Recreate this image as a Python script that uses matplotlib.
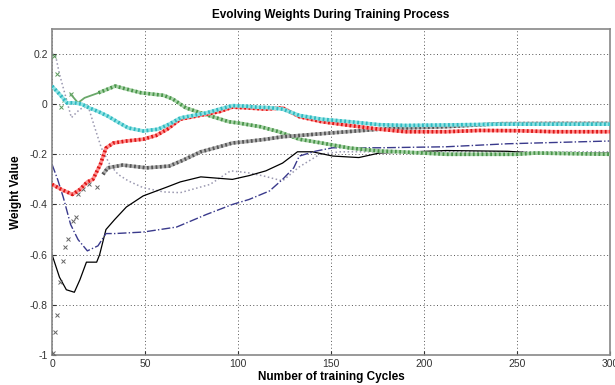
import matplotlib
matplotlib.use('Agg')
import matplotlib.pyplot as plt
import numpy as np

plt.rcParams['font.family'] = ['Liberation Sans', 'DejaVu Sans']

# weights (cycle, value)
cyan_x = [0, 4, 8, 12, 16, 20, 25, 30, 35, 41, 49, 57, 63, 69, 76, 83, 90, 97, 104, 110, 117, 124, 133, 145, 160, 176, 190, 212, 241, 260, 300]
cyan_y = [0.072, 0.04, 0.005, 0.005, 0.0, -0.015, -0.03, -0.048, -0.07, -0.095, -0.107, -0.1, -0.08, -0.055, -0.045, -0.035, -0.02, -0.006, -0.008, -0.012, -0.014, -0.02, -0.045, -0.06, -0.07, -0.082, -0.085, -0.083, -0.08, -0.08, -0.08]

red_x = [0, 5, 11, 15, 19, 22, 26, 29, 33, 40, 49, 56, 62, 69, 76, 83, 90, 97, 105, 115, 124, 133, 145, 160, 176, 190, 212, 230, 250, 270, 300]
red_y = [-0.32, -0.34, -0.36, -0.34, -0.31, -0.3, -0.24, -0.175, -0.155, -0.147, -0.14, -0.125, -0.1, -0.06, -0.05, -0.04, -0.03, -0.012, -0.015, -0.02, -0.015, -0.05, -0.07, -0.085, -0.1, -0.11, -0.11, -0.105, -0.106, -0.11, -0.11]

green_x = [1, 2.5, 5, 6.5, 10, 14, 17.5, 25, 34, 40, 48, 60, 65, 72, 82, 95, 100, 112, 122, 133, 145, 160, 176, 187, 212, 250, 260, 300]
green_y = [0.19, 0.12, -0.01, 0.016, 0.04, 0.005, 0.025, 0.045, 0.072, 0.06, 0.045, 0.035, 0.02, -0.015, -0.04, -0.07, -0.075, -0.09, -0.11, -0.14, -0.155, -0.175, -0.187, -0.19, -0.2, -0.2, -0.195, -0.2]

gray_early_x = [0.5, 1.8, 2.8, 4.1, 5.9, 6.8, 8.6, 11.3, 13, 14, 16.7, 20, 24]
gray_early_y = [-0.994, -0.91, -0.84, -0.71, -0.624, -0.57, -0.537, -0.465, -0.45, -0.36, -0.34, -0.32, -0.33]
gray_x = [27.4, 30, 38, 51, 63, 70, 80, 90, 97, 106, 115, 124, 133, 150, 176, 190, 212, 241, 270, 300]
gray_y = [-0.28, -0.254, -0.243, -0.254, -0.247, -0.225, -0.19, -0.17, -0.155, -0.148, -0.14, -0.13, -0.125, -0.115, -0.1, -0.095, -0.09, -0.078, -0.077, -0.077]

black_x = [0, 4, 7.7, 12, 15, 17, 18.5, 24, 25.6, 29, 33.7, 40, 49, 62, 69, 80, 97, 106, 115, 124, 132, 140, 151, 165, 176, 212, 245, 260, 300]
black_y = [-0.6, -0.69, -0.74, -0.75, -0.7, -0.66, -0.63, -0.63, -0.6, -0.5, -0.46, -0.41, -0.366, -0.33, -0.31, -0.29, -0.3, -0.285, -0.266, -0.235, -0.19, -0.19, -0.207, -0.213, -0.195, -0.185, -0.188, -0.195, -0.195]

navy_x = [0, 3, 6, 10, 14, 19, 24.7, 29, 33.7, 49, 67, 83, 97, 106, 117, 124, 130, 133, 142, 151, 176, 212, 245, 300]
navy_y = [-0.24, -0.3, -0.37, -0.48, -0.54, -0.585, -0.565, -0.516, -0.516, -0.51, -0.49, -0.44, -0.4, -0.38, -0.346, -0.3, -0.254, -0.207, -0.187, -0.174, -0.174, -0.17, -0.158, -0.147]

dot_x = [0, 1.8, 4, 7.7, 10.4, 15, 19.4, 23, 26.5, 31, 35.5, 41, 49, 60, 69, 85, 96, 105, 113.5, 124, 133, 144, 155, 176, 212, 300]
dot_y = [0.2, 0.197, 0.12, 0.02, -0.054, -0.02, -0.008, -0.094, -0.174, -0.24, -0.28, -0.306, -0.333, -0.35, -0.353, -0.32, -0.266, -0.273, -0.286, -0.306, -0.25, -0.2, -0.19, -0.19, -0.19, -0.19]

fig = plt.figure(figsize=(6.15, 3.85), dpi=100)
ax = fig.add_axes([0.0846, 0.078, 0.907, 0.847])


def marked(x, y, light, dark, lw=2.6):
    # dense markers in the original look like a thick hatched band
    ax.plot(x, y, '-', color=light, lw=lw, solid_capstyle='butt', zorder=3)
    ax.plot(x, y, color=dark, lw=lw, dashes=(0.5, 0.7), zorder=3)


ax.plot(dot_x, dot_y, ':', color='#9a98b0', lw=1.1, zorder=2)
ax.plot(black_x, black_y, '-', color='black', lw=0.9, zorder=2)
ax.plot(navy_x, navy_y, '-.', color='#3a3a8c', lw=1.0, zorder=2)
# early green weights jump around: only markers show there
ax.plot(green_x[:5], green_y[:5], 'x', color='#5a9a5a', ms=3, mew=0.7, zorder=3)
ax.plot(green_x[4:8], green_y[4:8], '-', color='#6aa86a', lw=1.3, zorder=3)
marked(green_x[7:], green_y[7:], '#a8d4a8', '#4a944a')
ax.plot(gray_early_x, gray_early_y, 'x', color='#666666', ms=3, mew=0.7, zorder=3)
marked(gray_x, gray_y, '#b0b0b0', '#555555')
marked(red_x, red_y, '#ff9090', '#dd1515')
marked(cyan_x, cyan_y, '#90e4e4', '#30b8c0')

ax.set_xlim(0, 300)
ax.set_ylim(-1, 0.3)
ax.set_xticks(np.arange(0, 301, 50))
ax.set_yticks([-1, -0.8, -0.6, -0.4, -0.2, 0, 0.2])
ax.set_yticklabels(['-1', '-0.8', '-0.6', '-0.4', '-0.2', '0', '0.2'])
ax.tick_params(direction='in', length=3, labelsize=7.5, colors='#333333', pad=3)
ax.grid(True, linestyle=(0, (1, 2.5)), color='#555555', lw=0.7)
for s in ax.spines.values():
    s.set_color('#888888')
    s.set_linewidth(1.2)

ax.set_title('Evolving Weights During Training Process', fontsize=8.5, fontweight='bold', pad=8)
ax.set_xlabel('Number of training Cycles', fontsize=8.5, fontweight='bold', labelpad=1)
ax.set_ylabel('Weight Value', fontsize=8.5, fontweight='bold', labelpad=6)

fig.savefig('out.png', dpi=100)
